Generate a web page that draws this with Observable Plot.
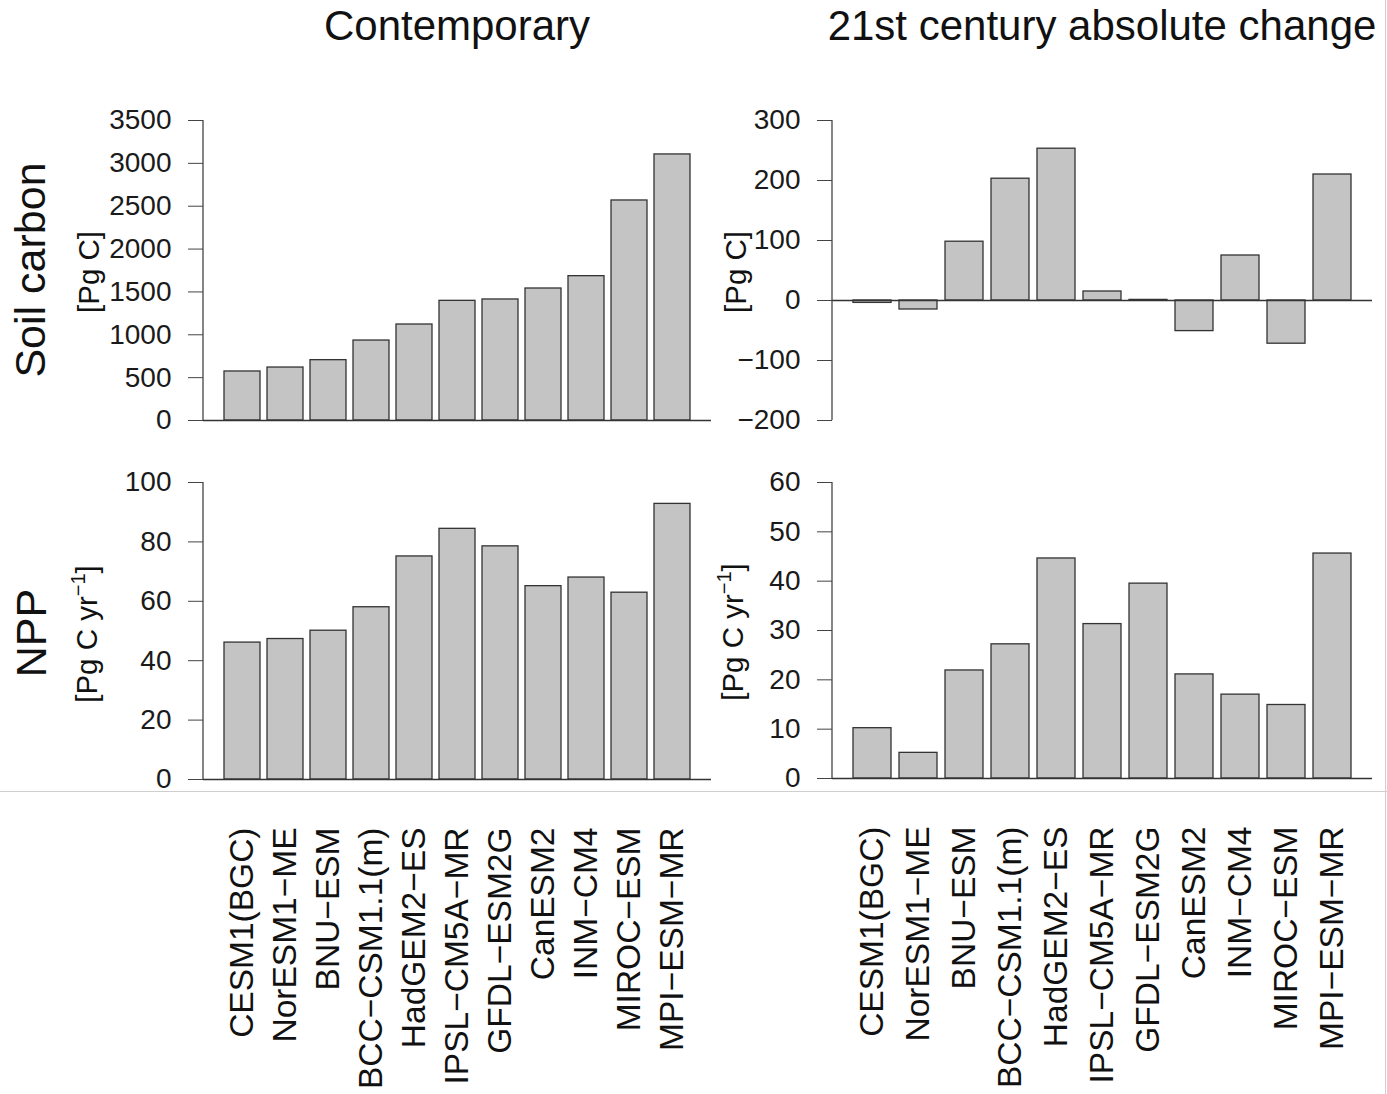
<!DOCTYPE html>
<html>
<head>
<meta charset="utf-8">
<script src="https://cdn.jsdelivr.net/npm/d3@7"></script>
<script src="https://cdn.jsdelivr.net/npm/@observablehq/plot@0.6"></script>
<style>
  html, body { margin: 0; padding: 0; background: #fff; }
  #page { position: relative; width: 1387px; height: 1094px; overflow: hidden; background: #fff;
          font-family: "Liberation Sans", Arial, Helvetica, sans-serif; color: #111; }
  .panel { position: absolute; }
  .lbl { position: absolute; white-space: nowrap; line-height: 1; transform: translate(-50%, -50%); }
  .rot { transform: translate(-50%, -50%) rotate(-90deg); }
  .coltitle { font-size: 42px; }
  .rowlbl { font-size: 43px; }
  .unit { font-size: 29.5px; }
  .unit sup { font-size: 0.68em; vertical-align: 0.62em; line-height: 0; }
  .hline { position: absolute; left: 0; top: 790.5px; width: 1387px; height: 1.5px; background: #cfcfcf; z-index: 5; }
  .vline { position: absolute; left: 1384.5px; top: 0; width: 1.5px; height: 1094px; background: #cfcfcf; z-index: 5; }
</style>
</head>
<body>
<div id="page">
  <div class="lbl coltitle" style="left:457px; top:26px;">Contemporary</div>
  <div class="lbl coltitle" style="left:1102px; top:26px;">21st century absolute change</div>
  <div class="lbl rot rowlbl" style="left:30px; top:270px;">Soil carbon</div>
  <div class="lbl rot rowlbl" style="left:31px; top:633px;">NPP</div>
  <div class="lbl rot unit" style="left:89px; top:272px;">[Pg C]</div>
  <div class="lbl rot unit" style="left:736px; top:272px;">[Pg C]</div>
  <div class="lbl rot unit" style="left:87px; top:634px;">[Pg C yr<sup>−1</sup>]</div>
  <div class="lbl rot unit" style="left:733px; top:632px;">[Pg C yr<sup>−1</sup>]</div>
  <div class="hline"></div>
  <div class="vline"></div>
</div>
<script>
// ---------------- data ----------------
const models = ["CESM1(BGC)", "NorESM1-ME", "BNU-ESM", "BCC-CSM1.1(m)", "HadGEM2-ES",
  "IPSL-CM5A-MR", "GFDL-ESM2G", "CanESM2", "INM-CM4", "MIROC-ESM", "MPI-ESM-MR"];
const soilContemporary = [572, 618, 704, 933, 1120, 1396, 1412, 1540, 1684, 2567, 3104];
const soilChange = [-4, -15, 98, 203, 253, 15, 1, -51, 75, -72, 210];
const nppContemporary = [46.1, 47.3, 50.1, 58.0, 75.1, 84.4, 78.5, 65.1, 68.0, 62.9, 92.8];
const nppChange = [10.2, 5.2, 21.9, 27.2, 44.6, 31.3, 39.5, 21.1, 17.0, 14.9, 45.6];

const soilContemporaryTicks = [0, 500, 1000, 1500, 2000, 2500, 3000, 3500];
const soilChangeTicks = [-200, -100, 0, 100, 200, 300];
const nppContemporaryTicks = [0, 20, 40, 60, 80, 100];
const nppChangeTicks = [0, 10, 20, 30, 40, 50, 60];

// ---------------- helpers ----------------
const font = '"Liberation Sans", Arial, Helvetica, sans-serif';
const numFmt = d => String(d).replace("-", "\u2212");
const nameFmt = d => d.replace(/-/g, "\u2212");
// R barplot geometry: bar width 1, space 0.2, x range extended 4%
const PAD_IN = 0.2 / 1.2;
const PAD_OUT = 0.52 / 1.2;

function panel(values, ticks, opts) {
  const data = models.map((m, i) => ({model: m, value: values[i]}));
  const marks = [
    Plot.barY(data, {x: "model", y: "value", fill: "#c4c4c4", stroke: "#333", strokeWidth: 1.3}),
    Plot.ruleY([0], {stroke: "#333", strokeWidth: 1.3}),
    Plot.axisY({ticks, tickFormat: numFmt, tickSize: 15, tickPadding: 17, stroke: "#444", fill: "#1a1a1a", label: null})
  ];
  if (opts.xLabels) {
    marks.push(Plot.axisX({tickRotate: -90, tickSize: 0, tickPadding: 48, tickFormat: nameFmt,
      fontSize: 33.5, fill: "#111", label: null}));
  }
  return Plot.plot({
    width: opts.width, height: opts.height,
    marginLeft: opts.ml, marginRight: opts.mr, marginTop: opts.mt, marginBottom: opts.mb,
    style: {fontFamily: font, fontSize: "28px", background: "transparent", overflow: "visible", color: "#333"},
    x: {type: "band", domain: models, paddingInner: PAD_IN, paddingOuter: PAD_OUT, axis: null},
    y: {domain: opts.domain, axis: null},
    marks
  });
}

function place(svg, left, top) {
  const div = document.createElement("div");
  div.className = "panel";
  div.style.left = left + "px";
  div.style.top = top + "px";
  div.appendChild(svg);
  document.getElementById("page").appendChild(div);
  return svg;
}

const tl = place(panel(soilContemporary, soilContemporaryTicks,
  {width: 711, height: 340, ml: 203, mr: 0, mt: 20, mb: 20, domain: [0, 3500]}), 0, 100);
const tr = place(panel(soilChange, soilChangeTicks,
  {width: 676, height: 340, ml: 121, mr: 15, mt: 20, mb: 20, domain: [-200, 300]}), 711, 100);
const bl = place(panel(nppContemporary, nppContemporaryTicks,
  {width: 711, height: 634, ml: 203, mr: 0, mt: 22, mb: 315, domain: [0, 100], xLabels: true}), 0, 460);
const br = place(panel(nppChange, nppChangeTicks,
  {width: 676, height: 634, ml: 121, mr: 15, mt: 22, mb: 316, domain: [0, 60], xLabels: true}), 711, 460);

// y-axis line along the left edge of each frame (drawn with d3 from the plot's scales)
for (const svg of [tl, tr, bl, br]) {
  const y = svg.scale("y");
  const x0 = svg.scale("x").range[0];
  d3.select(svg).append("line")
    .attr("x1", x0).attr("x2", x0)
    .attr("y1", y.apply(y.domain[0])).attr("y2", y.apply(y.domain[1]))
    .attr("stroke", "#444").attr("stroke-width", 1.3);
}
</script>
</body>
</html>
